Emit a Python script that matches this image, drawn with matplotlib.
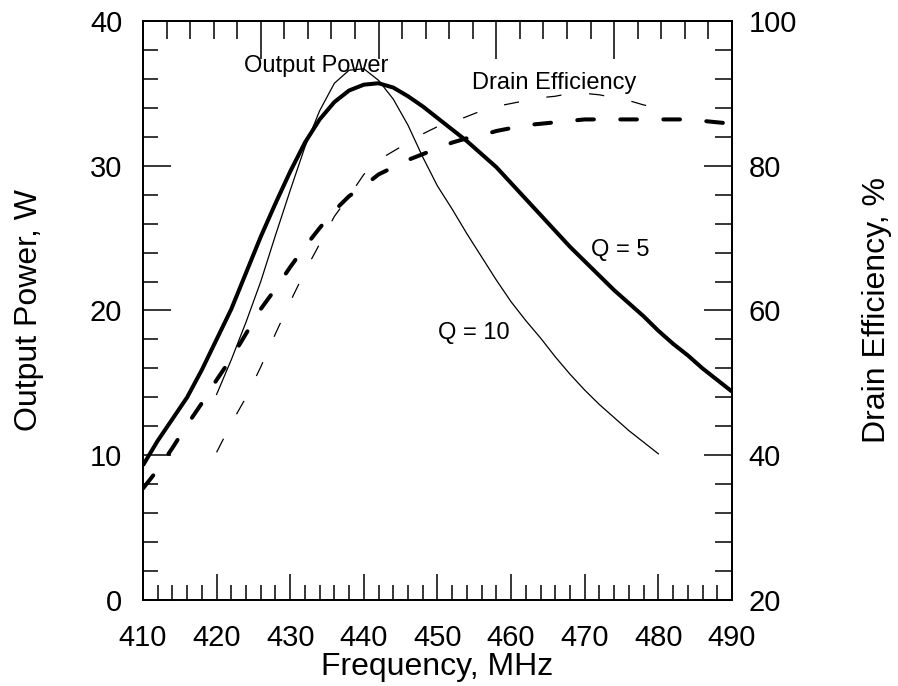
import matplotlib
matplotlib.use("Agg")
import matplotlib.pyplot as plt
from matplotlib.ticker import MultipleLocator

plt.rcParams['font.family'] = ['Liberation Sans', 'DejaVu Sans']
plt.rcParams['lines.scale_dashes'] = False

# frequency grids, MHz
freq_q5 = [410, 412, 414, 416, 418, 420, 422, 424, 426, 428, 430, 432, 434, 436,
           438, 440, 442, 444, 446, 448, 450, 452, 454, 456, 458, 460, 462, 464,
           466, 468, 470, 472, 474, 476, 478, 480, 482, 484, 486, 488, 490]
freq_q10 = [420, 422, 424, 426, 428, 430, 432, 434, 436, 438, 440, 442, 444, 446,
            448, 450, 452, 454, 456, 458, 460, 462, 464, 466, 468, 470, 472, 474,
            476, 478, 480]

# output power, W
power_q5 = [9.3, 11.0, 12.5, 14.0, 15.9, 18.0, 20.1, 22.6, 25.1, 27.4, 29.6, 31.6,
            33.2, 34.4, 35.2, 35.6, 35.7, 35.4, 34.8, 34.1, 33.3, 32.5, 31.7, 30.8,
            29.9, 28.8, 27.7, 26.6, 25.5, 24.4, 23.4, 22.4, 21.4, 20.5, 19.6, 18.6,
            17.7, 16.9, 16.0, 15.2, 14.4]
power_q10 = [14.2, 16.6, 19.2, 22.0, 25.2, 28.3, 31.3, 33.8, 35.7, 36.6, 36.7, 35.9,
             34.6, 32.8, 30.6, 28.6, 27.0, 25.3, 23.7, 22.1, 20.6, 19.3, 18.1, 16.8,
             15.6, 14.5, 13.5, 12.6, 11.7, 10.9, 10.1]

# drain efficiency, %
eff_q5 = [35.4, 38.0, 41.0, 44.2, 47.2, 50.4, 53.4, 56.8, 60.2, 63.0, 66.0, 68.8,
          71.4, 73.8, 75.8, 77.2, 78.8, 79.8, 80.8, 81.6, 82.4, 83.2, 83.8, 84.2,
          84.8, 85.2, 85.6, 85.8, 86.0, 86.2, 86.4, 86.4, 86.4, 86.4, 86.4, 86.4,
          86.4, 86.4, 86.2, 86.0, 85.8]
eff_q10 = [40.4, 44.4, 48.0, 52.2, 56.8, 61.2, 65.4, 69.2, 73.0, 75.8, 78.8, 80.8,
           82.0, 83.2, 84.4, 85.4, 86.0, 86.8, 87.6, 88.2, 88.6, 89.0, 89.4, 89.6,
           90.0, 90.0, 89.8, 89.4, 89.0, 88.4, 88.0]

fig = plt.figure(figsize=(8.98, 6.86), dpi=100)
ax = fig.add_axes([0.1592, 0.1254, 0.6559, 0.844])
ax2 = ax.twinx()
ax3 = ax.twiny()

ax.plot(freq_q5, power_q5, color='black', lw=2.9, solid_capstyle='butt')
ax.plot(freq_q10, power_q10, color='black', lw=0.9)
ax2.plot(freq_q5, eff_q5, color='black', lw=2.9, linestyle=(0, (12, 19)),
         dash_capstyle='round')
ax2.plot(freq_q10, eff_q10, color='black', lw=0.9, linestyle=(0, (11, 20)))

ax.set_xlim(410, 490)
ax.set_ylim(0, 40)
ax2.set_ylim(20, 100)
ax3.set_xlim(0, 5)

ax.xaxis.set_major_locator(MultipleLocator(10))
ax.xaxis.set_minor_locator(MultipleLocator(2))
ax.yaxis.set_major_locator(MultipleLocator(10))
ax.yaxis.set_minor_locator(MultipleLocator(2))
ax2.yaxis.set_major_locator(MultipleLocator(20))
ax2.yaxis.set_minor_locator(MultipleLocator(4))
ax3.xaxis.set_major_locator(MultipleLocator(1))
ax3.xaxis.set_minor_locator(MultipleLocator(0.2))

for a in (ax, ax2, ax3):
    for s in a.spines.values():
        s.set_linewidth(1.2)

ax.tick_params(axis='both', which='both', direction='in', width=1.1,
               top=False, right=False, labelsize=21)
ax.tick_params(axis='y', which='major', length=20, pad=15)
ax.tick_params(axis='y', which='minor', length=11)
ax.tick_params(axis='x', which='major', length=19, pad=17)
ax.tick_params(axis='x', which='minor', length=11)

ax2.tick_params(axis='y', which='both', direction='in', width=1.1, labelsize=21)
ax2.tick_params(axis='y', which='major', length=20, pad=12)
ax2.tick_params(axis='y', which='minor', length=12)

ax3.tick_params(axis='x', which='both', direction='in', width=1.1, labeltop=False)
ax3.tick_params(axis='x', which='major', length=27)
ax3.tick_params(axis='x', which='minor', length=13)

ax.set_xlabel('Frequency, MHz', fontsize=23, labelpad=0)
ax.set_ylabel('Output Power, W', fontsize=23, labelpad=33)
ax2.set_ylabel('Drain Efficiency, %', fontsize=23, labelpad=47)

ax.text(433.5, 36.5, 'Output Power', fontsize=17, ha='center', va='baseline')
ax.text(465.8, 35.28, 'Drain Efficiency', fontsize=17, ha='center', va='baseline')
ax.text(474.8, 23.77, 'Q = 5', fontsize=17, ha='center', va='baseline')
ax.text(455.0, 18.0, 'Q = 10', fontsize=17, ha='center', va='baseline')

fig.savefig('out.png', dpi=100)
